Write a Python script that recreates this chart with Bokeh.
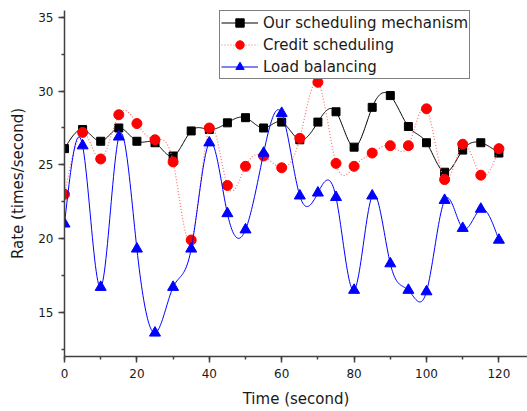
import numpy as np
from bokeh.plotting import figure
from bokeh.models import Range1d, SingleIntervalTicker, Legend, LegendItem
from bokeh.embed import file_html
from bokeh.resources import INLINE

time_s = [0, 5, 10, 15, 20, 25, 30, 35, 40, 45, 50, 55, 60, 65, 70, 75, 80, 85, 90, 95, 100, 105, 110, 115, 120]
ours = [26.1, 27.4, 26.6, 27.5, 26.6, 26.5, 25.6, 27.3, 27.4, 27.85, 28.2, 27.5, 27.9, 26.7, 27.9, 28.6, 26.2, 28.9, 29.7, 27.6, 26.5, 24.5, 26.0, 26.5, 25.8]
credit = [23.0, 27.2, 25.4, 28.4, 27.8, 26.7, 25.2, 19.9, 27.5, 23.6, 24.9, 25.6, 24.8, 26.8, 30.6, 25.1, 24.9, 25.8, 26.3, 26.3, 28.8, 24.0, 26.4, 24.3, 26.1]
load = [21.0, 26.3, 16.7, 26.9, 19.3, 13.6, 16.7, 19.3, 26.5, 21.7, 20.6, 25.8, 28.5, 22.9, 23.1, 22.8, 16.5, 22.9, 18.3, 16.5, 16.4, 22.6, 20.7, 22.0, 19.9]
labels = ["Our scheduling mechanism", "Credit scheduling", "Load balancing"]

FONT = "DejaVu Sans"


def spline(xs, ys, per=24):
    """Natural cubic spline through the data points (curve drawn like Origin's spline connector)."""
    x = np.asarray(xs, float)
    y = np.asarray(ys, float)
    n = len(x)
    h = np.diff(x)
    A = np.zeros((n, n))
    b = np.zeros(n)
    A[0, 0] = 1.0
    A[-1, -1] = 1.0
    for i in range(1, n - 1):
        A[i, i - 1] = h[i - 1]
        A[i, i] = 2 * (h[i - 1] + h[i])
        A[i, i + 1] = h[i]
        b[i] = 6 * ((y[i + 1] - y[i]) / h[i] - (y[i] - y[i - 1]) / h[i - 1])
    M = np.linalg.solve(A, b)
    outx, outy = [], []
    for i in range(n - 1):
        t = np.linspace(x[i], x[i + 1], per, endpoint=(i == n - 2))
        a = x[i + 1] - t
        c = t - x[i]
        s = (M[i] * a ** 3 + M[i + 1] * c ** 3) / (6 * h[i]) \
            + (y[i] / h[i] - M[i] * h[i] / 6) * a \
            + (y[i + 1] / h[i] - M[i + 1] * h[i] / 6) * c
        outx.extend(t.tolist())
        outy.extend(s.tolist())
    return outx, outy


p = figure(width=527, height=411, output_backend="svg", toolbar_location=None,
           x_range=Range1d(0, 127.9), y_range=Range1d(12, 35.47),
           min_border_left=64, min_border_right=0, min_border_top=10, min_border_bottom=55)
p.outline_line_color = None
p.xgrid.visible = False
p.ygrid.visible = False
p.background_fill_color = "white"
p.border_fill_color = "white"

for ax in (p.xaxis[0], p.yaxis[0]):
    ax.axis_line_color = "#404040"
    ax.axis_line_width = 1.5
    ax.major_tick_line_color = "#404040"
    ax.minor_tick_line_color = "#404040"
    ax.major_tick_line_width = 1.5
    ax.minor_tick_line_width = 1.5
    ax.major_tick_in = 0
    ax.major_tick_out = 6
    ax.minor_tick_in = 0
    ax.minor_tick_out = 3
    ax.major_label_text_font = FONT
    ax.major_label_text_font_size = "12px"
    ax.major_label_text_color = "#1a1a1a"
    ax.axis_label_text_font = FONT
    ax.axis_label_text_font_size = "15px"
    ax.axis_label_text_font_style = "normal"
    ax.axis_label_text_color = "#1a1a1a"

p.xaxis[0].ticker = SingleIntervalTicker(interval=20, num_minor_ticks=2)
p.yaxis[0].ticker = SingleIntervalTicker(interval=5, num_minor_ticks=2)
p.xaxis[0].axis_label = "Time (second)"
p.yaxis[0].axis_label = "Rate (times/second)"
p.xaxis[0].major_label_standoff = 6
p.yaxis[0].major_label_standoff = 5
p.xaxis[0].axis_label_standoff = 9
p.yaxis[0].axis_label_standoff = 8

bx, by = spline(time_s, ours)
rx, ry = spline(time_s, credit)
lx, ly = spline(time_s, load)

l1 = p.line(bx, by, line_color="black", line_width=1)
m1 = p.scatter(time_s, ours, marker="square", size=8, fill_color="black", line_color="black")
l2 = p.line(rx, ry, line_color="#ff6f6f", line_width=1.2, line_dash="1 2")
m2 = p.scatter(time_s, credit, marker="circle", size=10, fill_color="#ff0000", line_color="#ff0000")
l3 = p.line(lx, ly, line_color="#0000ff", line_width=1)
m3 = p.scatter(time_s, load, marker="triangle", size=11, fill_color="#0000ff", line_color="#0000ff")

legend = Legend(items=[LegendItem(label=labels[0], renderers=[l1, m1]),
                       LegendItem(label=labels[1], renderers=[l2, m2]),
                       LegendItem(label=labels[2], renderers=[l3, m3])],
                location=(155, 277))
legend.label_text_font = FONT
legend.label_text_font_size = "15px"
legend.label_text_color = "#1a1a1a"
legend.glyph_width = 37
legend.glyph_height = 21
legend.label_height = 21
legend.label_standoff = 5
legend.spacing = 1
legend.padding = 1
legend.margin = 0
legend.border_line_color = "black"
legend.border_line_width = 1
legend.background_fill_color = "white"
legend.background_fill_alpha = 1
p.add_layout(legend, "center")

open("out.html", "w").write(file_html(p, INLINE))
